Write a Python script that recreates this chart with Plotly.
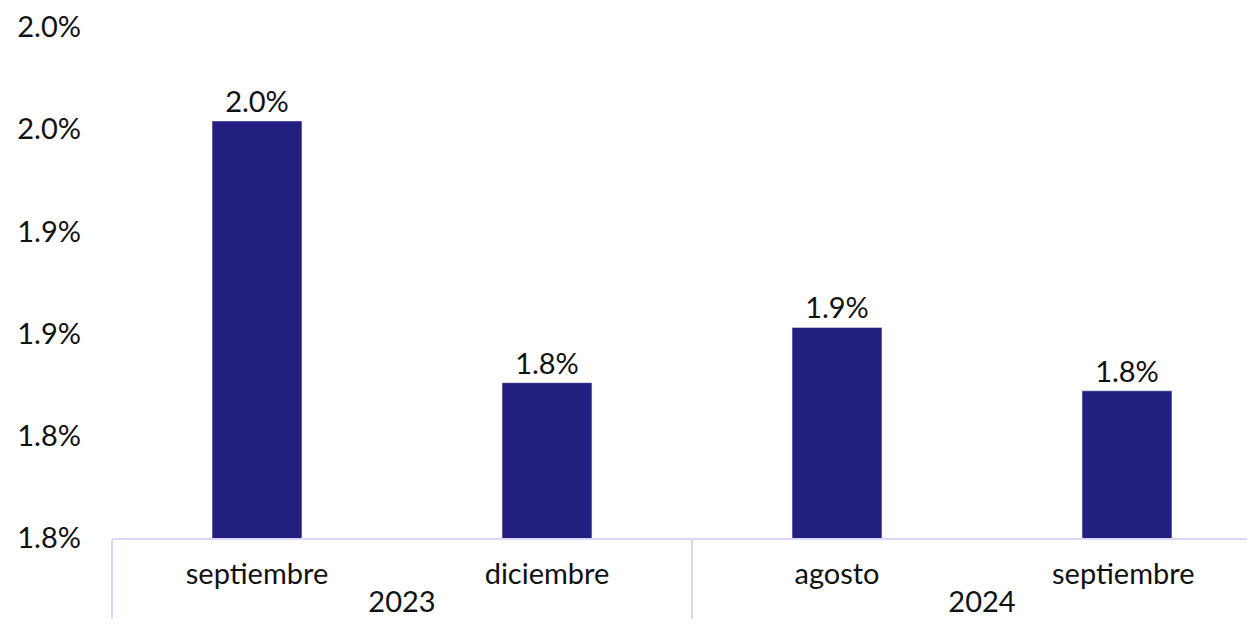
import plotly.graph_objects as go

# datos
anios = ["2023", "2023", "2024", "2024"]
# el espacio final en el último mes evita que plotly lo ordene junto al primero
meses = ["septiembre", "diciembre", "agosto", "septiembre "]
valores = [1.954, 1.826, 1.853, 1.822]
etiquetas = ["2.0%", "1.8%", "1.9%", "1.8%"]

ticks_y = [1.75, 1.80, 1.85, 1.90, 1.95, 2.00]
ticks_y_texto = ["1.8%", "1.8%", "1.9%", "1.9%", "2.0%", "2.0%"]

COLOR_BARRA = "#221F80"
COLOR_LINEA = "#D9D7F5"
FUENTE = "Lato, 'Noto Sans', sans-serif"

fig = go.Figure(go.Bar(
    x=[anios, meses],
    y=valores,
    text=etiquetas,
    textposition="outside",
    textfont=dict(size=29, color="#111111"),
    marker_color=COLOR_BARRA,
    cliponaxis=False,
))

fig.update_layout(
    width=1264,
    height=641,
    margin=dict(l=104, r=0, t=17, b=111),
    bargap=0.69,
    plot_bgcolor="white",
    paper_bgcolor="white",
    font=dict(family=FUENTE, size=29, color="#111111"),
    showlegend=False,
)
fig.update_xaxes(
    type="multicategory",
    showline=True,
    linecolor=COLOR_LINEA,
    linewidth=2,
    showdividers=True,
    dividercolor=COLOR_LINEA,
    dividerwidth=2,
    showgrid=False,
    ticklabelstandoff=9,
    tickfont=dict(size=29),
)
fig.update_yaxes(
    range=[1.75, 2.00],
    tickvals=ticks_y,
    ticktext=ticks_y_texto,
    showgrid=False,
    zeroline=False,
    showline=False,
    ticklabelstandoff=30,
    ticklabeloverflow="allow",
    tickfont=dict(size=29),
)

fig.write_html("out.html")
